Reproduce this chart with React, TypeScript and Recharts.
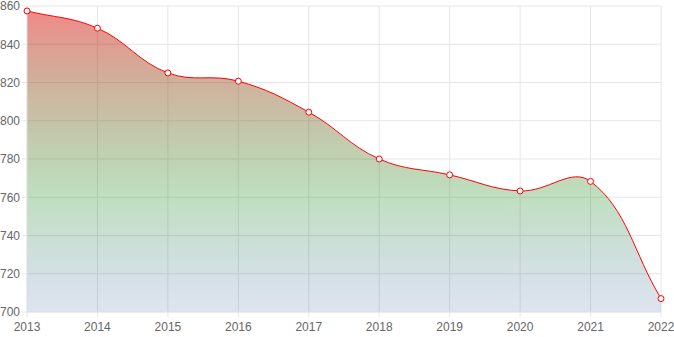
import { AreaChart, Area, XAxis, YAxis, CartesianGrid } from "recharts"

const years = ["2013", "2014", "2015", "2016", "2017", "2018", "2019", "2020", "2021", "2022"]
const values = [857.4, 848.4, 825, 820.7, 804.5, 780, 771.7, 763.3, 768.3, 707]
const yTicks = [700, 720, 740, 760, 780, 800, 820, 840, 860]

const data = years.map((year, i) => ({ year, value: values[i] }))

// spline with tension 0.4, like the original chart's line
function tensionCurve(context: any) {
  let pts: number[][] = []
  let line: number = NaN
  const t = 0.4
  return {
    areaStart() { line = 0 },
    areaEnd() { line = NaN },
    lineStart() { pts = [] },
    lineEnd() {
      const n = pts.length
      if (n > 0) {
        if (line) context.lineTo(pts[0][0], pts[0][1])
        else context.moveTo(pts[0][0], pts[0][1])
        const ctrl = pts.map((cur, i) => {
          const prev = pts[i - 1] || cur
          const next = pts[i + 1] || cur
          const d01 = Math.hypot(cur[0] - prev[0], cur[1] - prev[1])
          const d12 = Math.hypot(next[0] - cur[0], next[1] - cur[1])
          let s01 = d01 / (d01 + d12)
          let s12 = d12 / (d01 + d12)
          if (isNaN(s01)) s01 = 0
          if (isNaN(s12)) s12 = 0
          const fa = t * s01
          const fb = t * s12
          return {
            px: cur[0] - fa * (next[0] - prev[0]),
            py: cur[1] - fa * (next[1] - prev[1]),
            nx: cur[0] + fb * (next[0] - prev[0]),
            ny: cur[1] + fb * (next[1] - prev[1]),
          }
        })
        for (let i = 1; i < n; i++) {
          context.bezierCurveTo(ctrl[i - 1].nx, ctrl[i - 1].ny, ctrl[i].px, ctrl[i].py, pts[i][0], pts[i][1])
        }
      }
      if (line || (line !== 0 && n === 1)) context.closePath()
      line = 1 - line
    },
    point(x: number, y: number) { pts.push([+x, +y]) },
  }
}

export default function App() {
  return (
    <div style={{ position: "absolute", left: 0, top: 0 }}>
      <AreaChart
        width={674}
        height={337}
        data={data}
        margin={{ top: 6, right: 13, left: 0, bottom: 0 }}
      >
        <defs>
          <linearGradient id="fillGrad" x1="0" y1="0" x2="0" y2="1">
            <stop offset="0%" stopColor="rgb(225,20,15)" stopOpacity={0.5} />
            <stop offset="62%" stopColor="rgb(0,128,0)" stopOpacity={0.25} />
            <stop offset="100%" stopColor="rgb(0,50,140)" stopOpacity={0.13} />
          </linearGradient>
        </defs>
        <CartesianGrid stroke="#e6e6e6" />
        <XAxis
          dataKey="year"
          interval={0}
          tickSize={5}
          tickMargin={5}
          height={25}
          stroke="#e6e6e6"
          tick={{ fill: "#666", fontSize: 12, fontFamily: "Liberation Sans, Arial, sans-serif" }}
        />
        <YAxis
          domain={[700, 860]}
          ticks={yTicks}
          interval={0}
          width={27}
          tickSize={5}
          tickMargin={2}
          stroke="#e6e6e6"
          tick={{ fill: "#666", fontSize: 12, fontFamily: "Liberation Sans, Arial, sans-serif" }}
        />
        <Area
          type={tensionCurve as any}
          dataKey="value"
          stroke="#ff0000"
          strokeWidth={1}
          fill="url(#fillGrad)"
          fillOpacity={1}
          dot={{ r: 3, fill: "#fff", stroke: "#ff0000", strokeWidth: 1 }}
          activeDot={false}
          isAnimationActive={false}
        />
      </AreaChart>
    </div>
  )
}
